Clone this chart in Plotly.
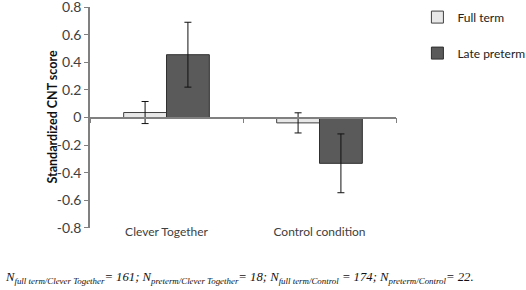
import plotly.graph_objects as go

categories = ["Clever Together", "Control condition"]
full_term = [0.036, -0.039]
full_term_err = [0.08, 0.073]
late_preterm = [0.455, -0.332]
late_preterm_err = [0.235, 0.213]
y_ticks = [-0.8, -0.6, -0.4, -0.2, 0, 0.2, 0.4, 0.6, 0.8]
y_tick_labels = ["-0.8", "-0.6", "-0.4", "-0.2", "0", "0.2", "0.4", "0.6", "0.8"]

xpos = list(range(len(categories)))
fig = go.Figure()
fig.add_trace(go.Bar(
    x=xpos, y=full_term, name="Full term", legendgroup="a",
    marker=dict(color="#e8e8e8", line=dict(color="#404040", width=1)),
    error_y=dict(type="data", array=full_term_err, color="#111111", thickness=1, width=3.5),
))
fig.add_trace(go.Bar(
    x=xpos, y=late_preterm, name="Late preterm", legendgroup="b",
    marker=dict(color="#5a5a5a", line=dict(color="#303030", width=1)),
    error_y=dict(type="data", array=late_preterm_err, color="#111111", thickness=1, width=3.5),
))
# invisible trace for the zero-line axis
fig.add_trace(go.Scatter(x=[-0.5, 1.5], y=[0, 0], xaxis="x2", mode="lines",
                         line=dict(width=0), showlegend=False, hoverinfo="skip"))

fig.update_layout(
    width=526, height=290,
    margin=dict(l=90, r=130, t=7, b=62, autoexpand=False),
    paper_bgcolor="white", plot_bgcolor="white",
    barmode="group", bargap=0.44, bargroupgap=0,
    font=dict(family="Lato, Open Sans, sans-serif", color="#404040"),
    xaxis=dict(range=[-0.5, 1.5], tickvals=xpos, ticktext=categories,
               showline=False, ticks="", showgrid=False, zeroline=False, automargin=False,
               ticklabelstandoff=-5,
               tickfont=dict(size=12, color="#404040")),
    xaxis2=dict(range=[-0.5, 1.5], overlaying="x", anchor="free", position=0.5,
                showline=True, linecolor="#808080", linewidth=1.5, automargin=False,
                tickvals=[-0.5, 0.5, 1.5], ticks="outside", ticklen=5,
                tickcolor="#808080", showticklabels=False, showgrid=False, zeroline=False),
    yaxis=dict(range=[-0.8005, 0.8005], tickvals=y_ticks, ticktext=y_tick_labels,
               showline=True, linecolor="#808080", linewidth=1.5, automargin=False,
               ticks="outside", ticklen=4, tickcolor="#808080",
               showgrid=False, zeroline=False, ticklabeloverflow="allow",
               tickfont=dict(size=14, color="#404040")),
    legend=dict(x=1.07, y=1.02, xanchor="left", yanchor="top",
                font=dict(size=12, color="#222222"), tracegroupgap=17,
                bgcolor="rgba(0,0,0,0)"),
    showlegend=True,
)
fig.add_annotation(
    xref="paper", yref="paper", x=-38/306, y=0.5, xanchor="center", yanchor="middle",
    textangle=-90, text="<b>Standardized CNT score</b>", showarrow=False,
    font=dict(size=12.5, color="#111111"),
)
fig.add_annotation(
    xref="paper", yref="paper", x=-87/306, y=-0.225, xanchor="left", yanchor="middle",
    text=("<i>N<sub>full term/Clever Together</sub>= 161; N<sub>preterm/Clever Together</sub>= 18; "
          "N<sub>full term/Control</sub> = 174; N<sub>preterm/Control</sub>= 22.</i>"),
    showarrow=False, font=dict(family="Liberation Serif, serif", size=12.7, color="#111111"),
)
fig.write_html("out.html", post_script="document.body.style.margin='0';",
               config={"displayModeBar": False})
